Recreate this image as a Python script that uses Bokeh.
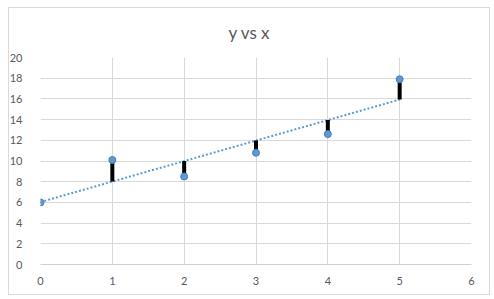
from bokeh.plotting import figure
from bokeh.models import Range1d, FixedTicker
from bokeh.embed import file_html
from bokeh.resources import INLINE
import numpy as np

x_vals = [0, 1, 2, 3, 4, 5]
y_vals = [6.0, 10.1, 8.5, 10.8, 12.6, 17.9]
x_ticks = [0, 1, 2, 3, 4, 5, 6]
y_ticks = [0, 2, 4, 6, 8, 10, 12, 14, 16, 18, 20]
title_text = "y vs x"

slope, intercept = np.polyfit(x_vals, y_vals, 1)
fit_vals = [slope * xv + intercept for xv in x_vals]

p = figure(width=494, height=299, output_backend="svg", toolbar_location=None,
           x_range=Range1d(0, 6), y_range=Range1d(0, 20),
           min_border_left=40, min_border_right=23, min_border_top=57, min_border_bottom=35)
g = "linear-gradient(#D9D9D9,#D9D9D9)"
p.styles = {
    "background": (f"{g} 8px 7px / 482px 1px no-repeat, "
                   f"{g} 8px 294px / 482px 1px no-repeat, "
                   f"{g} 8px 7px / 1px 288px no-repeat, "
                   f"{g} 489px 7px / 1px 288px no-repeat, white"),
}
p.outline_line_color = None
p.background_fill_color = "white"
p.border_fill_color = None

p.title.text = title_text
p.title.align = "left"
p.title.offset = 188
p.title.standoff = 30
p.title.text_font = "Lato"
p.title.text_font_size = "17px"
p.title.text_font_style = "normal"
p.title.text_color = "#595959"

for ax in (p.xaxis, p.yaxis):
    ax.major_tick_line_color = None
    ax.minor_tick_line_color = None
    ax.major_label_text_font = "Lato"
    ax.major_label_text_font_size = "11px"
    ax.major_label_text_color = "#595959"
p.xaxis.ticker = FixedTicker(ticks=x_ticks)
p.yaxis.ticker = FixedTicker(ticks=y_ticks)
p.xaxis.axis_line_color = "#D0D0D0"
p.yaxis.axis_line_color = None
p.xaxis.major_label_standoff = 6
p.yaxis.major_label_standoff = 12

p.xgrid.ticker = FixedTicker(ticks=x_ticks)
p.ygrid.ticker = FixedTicker(ticks=y_ticks)
p.xgrid.grid_line_color = "#D9D9D9"
p.ygrid.grid_line_color = "#D9D9D9"

p.line([x_vals[0], x_vals[-1]], [fit_vals[0], fit_vals[-1]], line_color="#5B9BD5",
       line_width=2, line_dash="2 2")
p.segment(x0=x_vals, y0=y_vals, x1=x_vals, y1=fit_vals, line_color="black", line_width=4)
p.scatter(x_vals, y_vals, size=7, fill_color="#5B9BD5", line_color="#4A7EBB", line_width=1)

open("out.html", "w").write(file_html(p, INLINE))
